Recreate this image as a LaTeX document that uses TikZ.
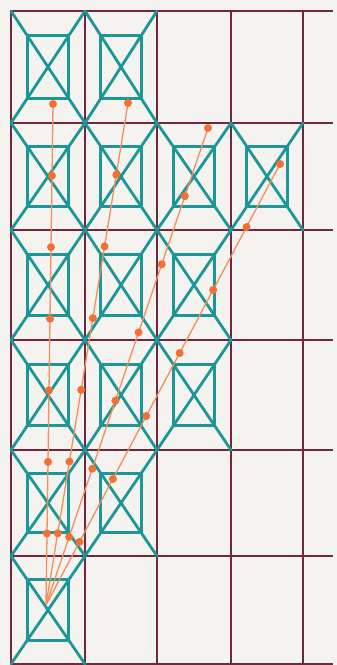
\documentclass[tikz,border=0pt]{standalone}
\usetikzlibrary{calc}
\definecolor{paper}{RGB}{244,243,239}
\definecolor{gridc}{RGB}{112,40,62}
\definecolor{tealc}{RGB}{28,150,150}
\definecolor{orangec}{RGB}{242,112,52}
\tikzset{
  gridline/.style={draw=gridc,line width=1.7pt},
  tealline/.style={draw=tealc,line width=2.8pt,line cap=round,line join=round},
  rayline/.style={draw=orangec!80,line width=1.3pt},
  dotmark/.style={fill=orangec,circle,inner sep=0pt,minimum size=8pt}
}
\begin{document}
\begin{tikzpicture}[x=1pt,y=-1pt]
\fill[paper] (0,0) rectangle (337,665);
\useasboundingbox (0,0) rectangle (337,665);
% grid
\foreach \x in {11,85,157,231,303} \draw[gridline] (\x,11) -- (\x,665);
\foreach \y in {11,123,230,340,450,556,664} \draw[gridline] (11,\y) -- (333,\y);
% teal cells: (left, top, right, bottom)
\foreach \l/\t/\r/\b in {
  11/11/85/123, 85/11/157/123,
  11/123/85/230, 85/123/157/230, 157/123/231/230, 231/123/303/230,
  11/230/85/340, 85/230/157/340, 157/230/231/340,
  11/340/85/450, 85/340/157/450, 157/340/231/450,
  11/450/85/556, 85/450/157/556,
  11/556/85/664}{
  \draw[tealline] (\l,\t) -- (\r,\b);
  \draw[tealline] (\r,\t) -- (\l,\b);
  \draw[tealline] ($(\l,\t)!0.22!(\r,\b)$) rectangle ($(\l,\t)!0.78!(\r,\b)$);
}
% orange rays
\coordinate (o) at (46,605);
\coordinate (e1) at (53,104);
\coordinate (e2) at (128,103);
\coordinate (e3) at (208,128);
\coordinate (e4) at (280,164);
\foreach \e in {e1,e2,e3,e4}{
  \draw[rayline] (o) -- (\e);
  \foreach \k in {1,...,7}
    \node[dotmark] (d\e\k) at ($(o)!\k/7!(\e)$) {};
}
\end{tikzpicture}
\end{document}
